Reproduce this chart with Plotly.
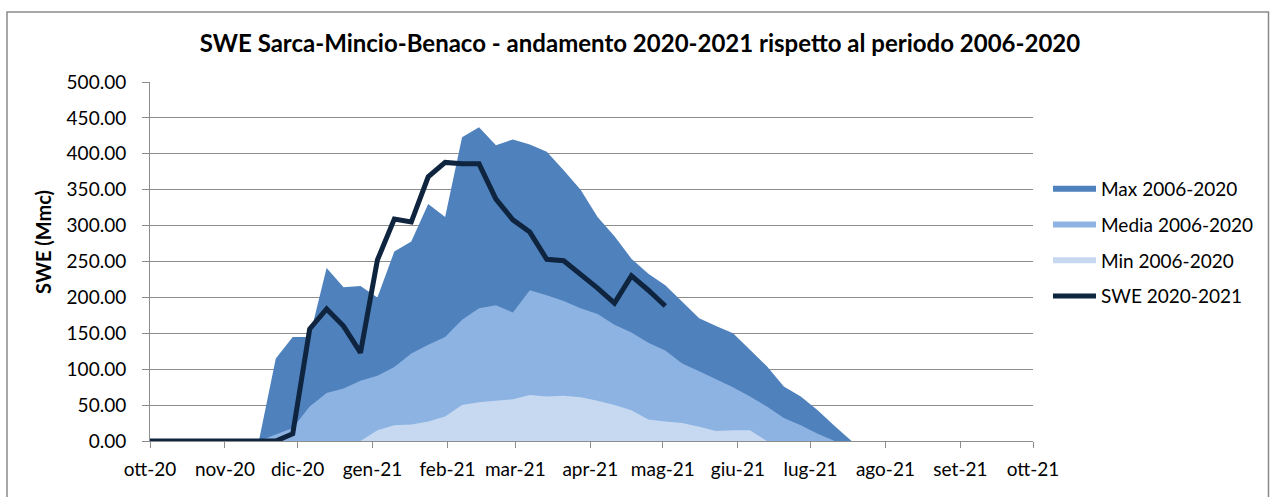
import plotly.graph_objects as go

dates = [
    "2020-10-01", "2020-10-04", "2020-10-11", "2020-10-18", "2020-10-25",
    "2020-11-01", "2020-11-08", "2020-11-15", "2020-11-22", "2020-11-29",
    "2020-12-06", "2020-12-13", "2020-12-20", "2020-12-27",
    "2021-01-03", "2021-01-10", "2021-01-17", "2021-01-24", "2021-01-31",
    "2021-02-07", "2021-02-14", "2021-02-21", "2021-02-28",
    "2021-03-07", "2021-03-14", "2021-03-21", "2021-03-28",
    "2021-04-04", "2021-04-11", "2021-04-18", "2021-04-25",
    "2021-05-02", "2021-05-09", "2021-05-16", "2021-05-23", "2021-05-30",
    "2021-06-06", "2021-06-13", "2021-06-20", "2021-06-27",
    "2021-07-04", "2021-07-11", "2021-07-18", "2021-07-25",
    "2021-08-01", "2021-08-08", "2021-08-15", "2021-08-22", "2021-08-29",
    "2021-09-05", "2021-09-12", "2021-09-19", "2021-09-26",
]

max_2006_2020 = [
    0, 0, 0, 0, 0, 0, 0, 0, 115, 145,
    145, 241, 214, 216,
    200, 264, 278, 330, 312,
    423, 437, 412, 420,
    413, 403, 377, 350,
    312, 285, 254, 233,
    217, 194, 171, 160, 150,
    127, 104, 76, 62,
    43, 21, 0, 0,
    0, 0, 0, 0, 0,
    0, 0, 0, 0,
]

media_2006_2020 = [
    0, 0, 0, 0, 0, 0, 0, 0, 9, 18,
    48, 67, 73, 84,
    91, 103, 122, 134, 145,
    169, 185, 189, 179,
    210, 203, 195, 185,
    177, 162, 151, 137,
    126, 108, 97, 86, 75,
    62, 48, 32, 22,
    10, 0, 0, 0,
    0, 0, 0, 0, 0,
    0, 0, 0, 0,
]

min_2006_2020 = [
    0, 0, 0, 0, 0, 0, 0, 0, 0, 0,
    0, 0, 0, 0,
    15, 22, 23, 27, 34,
    50, 54, 56, 58,
    64, 62, 63, 61,
    56, 50, 43, 30,
    27, 25, 20, 14, 15,
    15, 0, 0, 0,
    0, 0, 0, 0,
    0, 0, 0, 0, 0,
    0, 0, 0, 0,
]

swe_2020_2021 = [
    0, 0, 0, 0, 0, 0, 0, 0, 0, 10,
    156, 184, 160, 123,
    252, 309, 305, 368, 388,
    386, 386, 337, 308,
    291, 253, 251, 233,
    213, 192, 230, 210,
    188,
]

tick_dates = [
    "2020-10-01", "2020-11-01", "2020-12-01", "2021-01-01", "2021-02-01",
    "2021-03-01", "2021-04-01", "2021-05-01", "2021-06-01", "2021-07-01",
    "2021-08-01", "2021-09-01", "2021-10-01",
]
tick_labels = [
    "ott-20", "nov-20", "dic-20", "gen-21", "feb-21", "mar-21", "apr-21",
    "mag-21", "giu-21", "lug-21", "ago-21", "set-21", "ott-21",
]

series_names = ["Max 2006-2020", "Media 2006-2020", "Min 2006-2020", "SWE 2020-2021"]

# ---- figure ----
FONT = "Lato"
W, H = 1271, 497
ML, MR, MT, MB = 150, 238, 82, 56
PW, PH = W - ML - MR, H - MT - MB

fig = go.Figure()

area_colors = ["#4F81BD", "#8DB3E2", "#C6D9F1"]
for name, vals, col in zip(series_names[:3],
                           [max_2006_2020, media_2006_2020, min_2006_2020],
                           area_colors):
    fig.add_trace(go.Scatter(
        x=dates, y=vals, name=name, mode="none",
        fill="tozeroy", fillcolor=col, legendgroup=name,
        hoverinfo="skip",
    ))

fig.add_trace(go.Scatter(
    x=dates[:len(swe_2020_2021)], y=swe_2020_2021, name=series_names[3],
    mode="lines", line=dict(color="#0F243E", width=5),
    legendgroup=series_names[3], hoverinfo="skip",
))

grid_col = "#8C8C8C"

fig.update_layout(
    width=W, height=H,
    margin=dict(l=ML, r=MR, t=MT, b=MB, pad=0, autoexpand=False),
    paper_bgcolor="white", plot_bgcolor="white",
    font=dict(family=FONT, size=19, color="#000000"),
    title=dict(
        text="<b>SWE Sarca-Mincio-Benaco - andamento 2020-2021 rispetto al periodo 2006-2020</b>",
        x=0.5035, xanchor="center", xref="container",
        y=1 - 44 / H, yanchor="middle", yref="container",
        font=dict(family=FONT, size=24, color="#000000"),
    ),
    showlegend=True,
    legend=dict(
        x=(1048 - ML) / PW, xanchor="left",
        y=(H - MB - 170) / PH, yanchor="top",
        font=dict(family=FONT, size=19, color="#000000"),
        bgcolor="rgba(0,0,0,0)", borderwidth=0,
        itemwidth=43, tracegroupgap=8,
        traceorder="grouped",
    ),
    hovermode=False,
)

fig.update_xaxes(
    type="date",
    range=["2020-10-01", "2021-10-01"],
    tickmode="array", tickvals=tick_dates, ticktext=tick_labels,
    showgrid=False, zeroline=False,
    showline=True, linecolor=grid_col, linewidth=1,
    ticks="outside", ticklen=6, tickcolor=grid_col, tickwidth=1,
    ticklabelstandoff=5,
    tickfont=dict(family=FONT, size=19, color="#000000"),
)

fig.update_yaxes(
    range=[0, 500], dtick=50, tick0=0, tickformat=".2f",
    showgrid=True, gridcolor=grid_col, gridwidth=1,
    zeroline=False,
    showline=True, linecolor=grid_col, linewidth=1,
    ticks="outside", ticklen=7, tickcolor=grid_col, tickwidth=1,
    ticklabelstandoff=12,
    tickfont=dict(family=FONT, size=19, color="#000000"),
)

# y-axis title as rotated text
fig.add_annotation(
    text="<b>SWE (Mmc)</b>", textangle=-90,
    xref="paper", yref="paper",
    x=(43 - ML) / PW, y=(H - MB - 242) / PH,
    xanchor="center", yanchor="middle", showarrow=False,
    font=dict(family=FONT, size=20, color="#000000"),
)

# outer chart frame
fig.add_shape(
    type="rect", xref="paper", yref="paper",
    x0=(7 - ML) / PW, x1=(1268.5 - ML) / PW,
    y0=(H - MB - 520) / PH, y1=(H - MB - 12) / PH,
    line=dict(color="#8A8A8A", width=1.5), fillcolor="rgba(0,0,0,0)",
    layer="below",
)

fig.write_html(
    "out.html",
    config={"displayModeBar": False, "staticPlot": True},
    post_script="document.body.style.margin='0';document.body.style.overflow='hidden';",
)
